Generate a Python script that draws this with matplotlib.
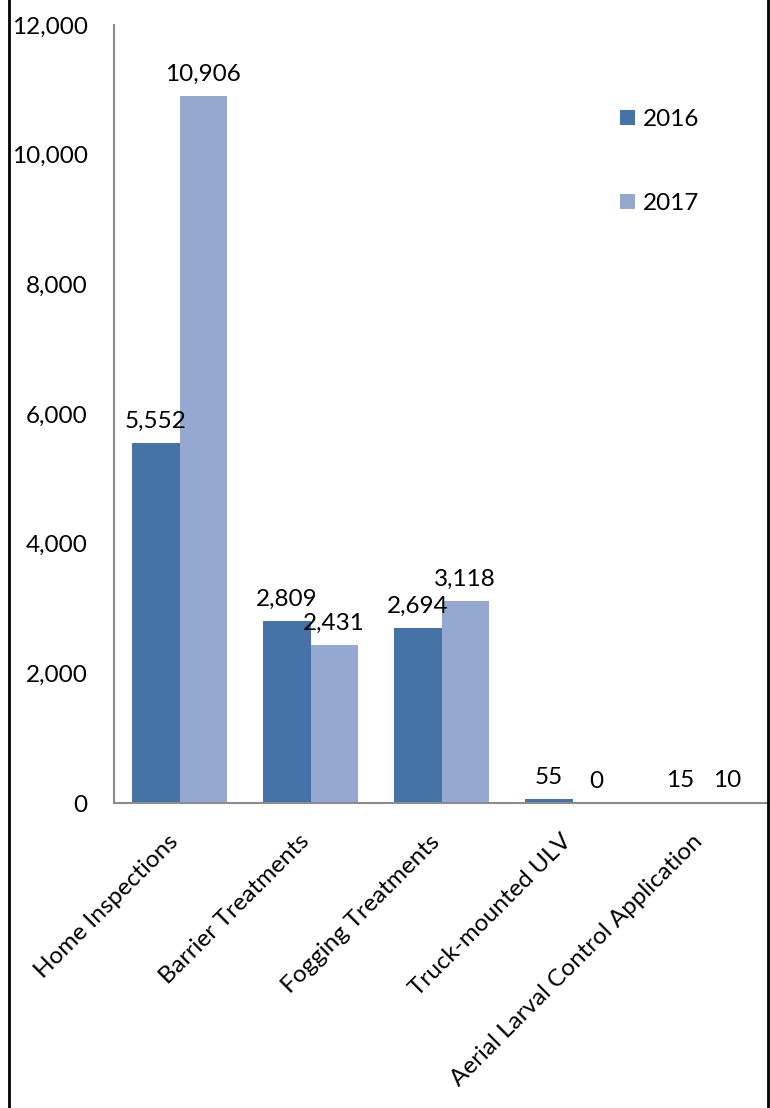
import matplotlib
matplotlib.use("Agg")
import matplotlib.pyplot as plt
import numpy as np
from matplotlib.lines import Line2D
from matplotlib.transforms import ScaledTranslation

categories = ["Home Inspections", "Barrier Treatments", "Fogging Treatments",
              "Truck-mounted ULV", "Aerial Larval Control Application"]
series_names = ["2016", "2017"]
values_2016 = [5552, 2809, 2694, 55, 15]
values_2017 = [10906, 2431, 3118, 0, 10]
yticks = [0, 2000, 4000, 6000, 8000, 10000, 12000]

plt.rcParams['font.family'] = ['Lato', 'DejaVu Sans']
FS = 17.5

W, H = 770, 1108
fig = plt.figure(figsize=(W/100, H/100), dpi=100)
ax = fig.add_axes([114/W, 1-803/H, (769-114)/W, (803-25)/H])

x = np.arange(len(categories))
bw = 0.362
c16 = "#4573A7"
c17 = "#95A9D0"
b1 = ax.bar(x - bw/2, values_2016, bw, color=c16, label=series_names[0])
b2 = ax.bar(x + bw/2, values_2017, bw, color=c17, label=series_names[1])

for bars, vals in ((b1, values_2016), (b2, values_2017)):
    for r, v in zip(bars, vals):
        ax.annotate(f"{v:,}", (r.get_x() + r.get_width()/2, r.get_height()),
                    xytext=(0, 8), textcoords="offset points",
                    ha="center", va="bottom", fontsize=FS, color="black")

ax.set_xlim(-0.5, len(categories) - 0.5)
ax.set_ylim(0, 12000)
ax.set_yticks(yticks)
ax.set_yticklabels([f"{t:,}" for t in yticks], fontsize=FS)
ax.tick_params(axis="y", length=0, pad=19)
ax.set_xticks(x)
ax.set_xticklabels(categories, rotation=45, ha="right", rotation_mode="anchor", fontsize=FS)
ax.tick_params(axis="x", length=0, pad=20)
off = ScaledTranslation(-12/100, 0, fig.dpi_scale_trans)
for lbl in ax.get_xticklabels():
    lbl.set_transform(lbl.get_transform() + off)

for s in ["top", "right"]:
    ax.spines[s].set_visible(False)
for s in ["left", "bottom"]:
    ax.spines[s].set_color("#8C8C8C")
    ax.spines[s].set_linewidth(1.5)

leg = ax.legend(loc="upper left", bbox_to_anchor=((620-114)/(769-114), 1 - (109-25)/(803-25)),
                frameon=False, fontsize=FS, handlelength=0.6, handleheight=0.6,
                handletextpad=0.35, labelspacing=2.6, borderpad=0, borderaxespad=0)

fig.add_artist(Line2D([8.5/W, 8.5/W], [0, 1], color="black", lw=2, transform=fig.transFigure))
fig.add_artist(Line2D([767.5/W, 767.5/W], [0, 1], color="black", lw=2, transform=fig.transFigure))

fig.savefig("out.png", dpi=100)
